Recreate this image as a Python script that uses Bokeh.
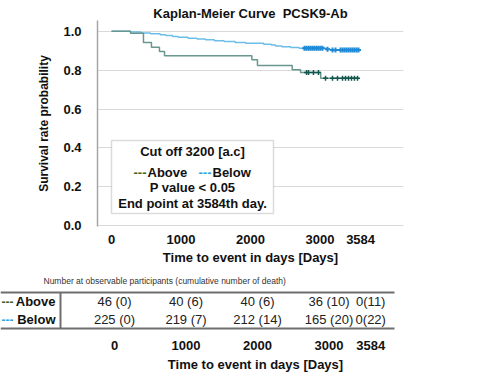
import numpy as np
from bokeh.plotting import figure
from bokeh.models import Range1d, FixedTicker, NumeralTickFormatter, BoxAnnotation, Label
from bokeh.core.properties import value
from bokeh.embed import file_html
from bokeh.resources import INLINE

# ---------------- data ----------------
above_t = [0, 273, 460, 575, 690, 763, 2020, 2100, 2600, 2720, 3010, 3560]
above_s = [1.000, 0.990, 0.942, 0.918, 0.896, 0.874, 0.853, 0.824, 0.802, 0.788, 0.758, 0.758]
above_cens = [2806, 2835, 2906, 2978, 3079, 3180, 3252, 3324, 3367, 3410, 3453, 3496, 3540]

below_t = [0, 273, 420, 560, 700, 780, 880, 960, 1100, 1230, 1350, 1480, 1620, 1780, 1930,
           2190, 2300, 2360, 2450, 2580, 2700, 3090, 3150, 3560]
below_s = [1.000, 0.996, 0.991, 0.987, 0.982, 0.978, 0.973, 0.969, 0.964, 0.960, 0.956, 0.951,
           0.947, 0.942, 0.938, 0.933, 0.929, 0.924, 0.920, 0.916, 0.912, 0.907, 0.903, 0.903]
below_cens = [2777, 2806, 2835, 2863, 2892, 2921, 2950, 2978, 3007, 3036, 3108, 3180, 3223,
              3295, 3324, 3353, 3381, 3410, 3439, 3468, 3496, 3525, 3554]

x_ticks = [0, 1000, 2000, 3000, 3584]
y_ticks = [0.0, 0.2, 0.4, 0.6, 0.8, 1.0]

table_days = [0, 1000, 2000, 3000, 3584]
above_n = [46, 40, 40, 36, 0]
above_d = [0, 6, 6, 10, 11]
below_n = [225, 219, 212, 165, 0]
below_d = [0, 7, 14, 20, 22]

FONT = value("Liberation Sans")
C_ABOVE_LINE = "#6a9690"
C_ABOVE_MARK = "#14574f"
C_BELOW_LINE = "#6cbeea"
C_BELOW_MARK = "#1f8ad6"
C_ABOVE_DASH = "#3d6420"
C_BELOW_DASH = "#2aa5e3"


def step_at(ts, ss, t):
    ts = np.asarray(ts); ss = np.asarray(ss)
    return ss[np.searchsorted(ts, t, side="right") - 1]


# ---------------- main chart ----------------
X0, XS = 111.0, 0.0695     # page px of day 0, px per day
Y0, YS = 225.3, 194.6      # page px of S=0, px per unit


def d1x(px):
    return (px - X0) / XS


def d1y(py):
    return (Y0 - py) / YS


p = figure(width=480, height=270, output_backend="svg", toolbar_location=None,
           x_range=Range1d(d1x(97), d1x(403)), y_range=Range1d(d1y(226), d1y(20)),
           min_border_left=97, min_border_right=77, min_border_top=20, min_border_bottom=44,
           title="Kaplan-Meier Curve\u00a0 PCSK9-Ab")
p.outline_line_color = None
p.background_fill_color = "white"
p.title.align = "center"
p.title.text_font = "Liberation Sans"
p.title.text_font_style = "bold"
p.title.text_font_size = "13px"
p.title.text_color = "#111111"
p.title.standoff = 0

p.xgrid.visible = False
p.ygrid.ticker = FixedTicker(ticks=y_ticks)
p.ygrid.grid_line_color = "#d9d9d9"
p.ygrid.grid_line_width = 1

p.yaxis.ticker = FixedTicker(ticks=y_ticks)
p.yaxis.formatter = NumeralTickFormatter(format="0.0")
p.yaxis.major_tick_out = 0
p.yaxis.major_tick_in = 0
p.yaxis.minor_tick_out = 0
p.yaxis.minor_tick_in = 0
p.yaxis.axis_line_color = "#a6a6a6"
p.yaxis.axis_line_width = 1.5
p.yaxis.major_label_standoff = 16
p.yaxis.major_label_text_font = "Liberation Sans"
p.yaxis.major_label_text_font_style = "bold"
p.yaxis.major_label_text_font_size = "13px"
p.yaxis.major_label_text_color = "#111111"
p.yaxis.axis_label = "Survival rate probability"
p.yaxis.axis_label_text_font = "Liberation Sans"
p.yaxis.axis_label_text_font_style = "bold"
p.yaxis.axis_label_text_font_size = "12px"
p.yaxis.axis_label_text_color = "#111111"
p.yaxis.axis_label_standoff = 9

p.xaxis.ticker = FixedTicker(ticks=x_ticks)
p.xaxis.major_tick_out = 0
p.xaxis.major_tick_in = 0
p.xaxis.minor_tick_out = 0
p.xaxis.minor_tick_in = 0
p.xaxis.axis_line_color = None
p.xaxis.major_label_standoff = 8
p.xaxis.major_label_text_font = "Liberation Sans"
p.xaxis.major_label_text_font_style = "bold"
p.xaxis.major_label_text_font_size = "13px"
p.xaxis.major_label_text_color = "#111111"
p.xaxis.axis_label = "Time to event in days [Days]"
p.xaxis.axis_label_text_font = "Liberation Sans"
p.xaxis.axis_label_text_font_style = "bold"
p.xaxis.axis_label_text_font_size = "13px"
p.xaxis.axis_label_text_color = "#111111"
p.xaxis.axis_label_standoff = 3

# curves
p.step(below_t, below_s, mode="after", line_color=C_BELOW_LINE, line_width=1.5)
p.step(above_t, above_s, mode="after", line_color=C_ABOVE_LINE, line_width=1.5)
p.scatter(below_cens, step_at(below_t, below_s, below_cens), marker="cross", size=5,
          line_color=C_BELOW_MARK, line_width=2)
p.scatter(above_cens, step_at(above_t, above_s, above_cens), marker="cross", size=5,
          line_color=C_ABOVE_MARK, line_width=1.5)

# info box
p.add_layout(BoxAnnotation(left=d1x(111), right=d1x(273), top=d1y(140), bottom=d1y(213),
                           fill_color="white", fill_alpha=1.0, line_color="#8c8c8c",
                           line_width=1.5))


def box_label(px, py, txt, color="#111111", align="center"):
    p.add_layout(Label(x=d1x(px), y=d1y(py), text=txt, text_align=align,
                       text_baseline="middle", text_font="Liberation Sans",
                       text_font_style="bold", text_font_size="13px", text_color=color))


box_label(192, 151, "Cut off 3200 [a.c]")
box_label(133, 172, "---", C_ABOVE_DASH, "left")
box_label(147, 172, "Above", align="left")
box_label(198, 172, "---", C_BELOW_DASH, "left")
box_label(212, 172, "Below", align="left")
box_label(192, 187, "P value < 0.05")
box_label(192, 203, "End point at 3584th day.")

# ---------------- number-at-risk table ----------------
TX0, TXS = 114.0, 0.0715
TOP = 270


def tx(px):
    return (px - TX0) / TXS


def ty(py):
    return py - TOP


q = figure(width=480, height=109, output_backend="svg", toolbar_location=None,
           x_range=Range1d(tx(0), tx(480)), y_range=Range1d(109, 0),
           x_axis_type=None, y_axis_type=None,
           min_border_left=0, min_border_right=0, min_border_top=0, min_border_bottom=0)
q.outline_line_color = None
q.xgrid.visible = False
q.ygrid.visible = False

q.text(x=[tx(43)], y=[ty(280)], text=["Number at observable participants (cumulative number of death)"],
       text_font=FONT, text_font_size="8.5px", text_color="#333333",
       text_align="left", text_baseline="middle")

q.segment(x0=[tx(0), tx(0), tx(60)], y0=[ty(292), ty(328), ty(292)],
          x1=[tx(394), tx(394), tx(60)], y1=[ty(292), ty(328), ty(328)],
          line_color="#6e6e6e", line_width=2)

q.text(x=[tx(1), tx(1)], y=[ty(301), ty(319)], text=["---", "---"],
       text_color=[C_ABOVE_DASH, C_BELOW_DASH], text_font=FONT, text_font_size="12px",
       text_font_style="bold", text_align="left", text_baseline="middle")
q.text(x=[tx(55), tx(55)], y=[ty(301), ty(319)], text=["Above", "Below"],
       text_color="#111111", text_font=FONT, text_font_size="13px",
       text_font_style="bold", text_align="right", text_baseline="middle")


def fmt(n, d, last):
    return f"{n}({d})" if last else f"{n} ({d})"


above_lbl = [fmt(n, d, i == len(above_n) - 1) for i, (n, d) in enumerate(zip(above_n, above_d))]
below_lbl = [fmt(n, d, i == len(below_n) - 1) for i, (n, d) in enumerate(zip(below_n, below_d))]

q.text(x=table_days, y=[ty(301)] * len(table_days), text=above_lbl, text_font=FONT,
       text_font_size="13px", text_color="#222222", text_align="center", text_baseline="middle")
q.text(x=table_days, y=[ty(319)] * len(table_days), text=below_lbl, text_font=FONT,
       text_font_size="13px", text_color="#222222", text_align="center", text_baseline="middle")
q.text(x=table_days, y=[ty(345)] * len(table_days), text=[str(d) for d in table_days],
       text_font=FONT, text_font_size="13px", text_font_style="bold", text_color="#111111",
       text_align="center", text_baseline="middle")
q.text(x=[tx(255)], y=[ty(364)], text=["Time to event in days [Days]"], text_font=FONT,
       text_font_size="13px", text_font_style="bold", text_color="#111111",
       text_align="center", text_baseline="middle")

open("out.html", "w").write(file_html([p, q], INLINE))
